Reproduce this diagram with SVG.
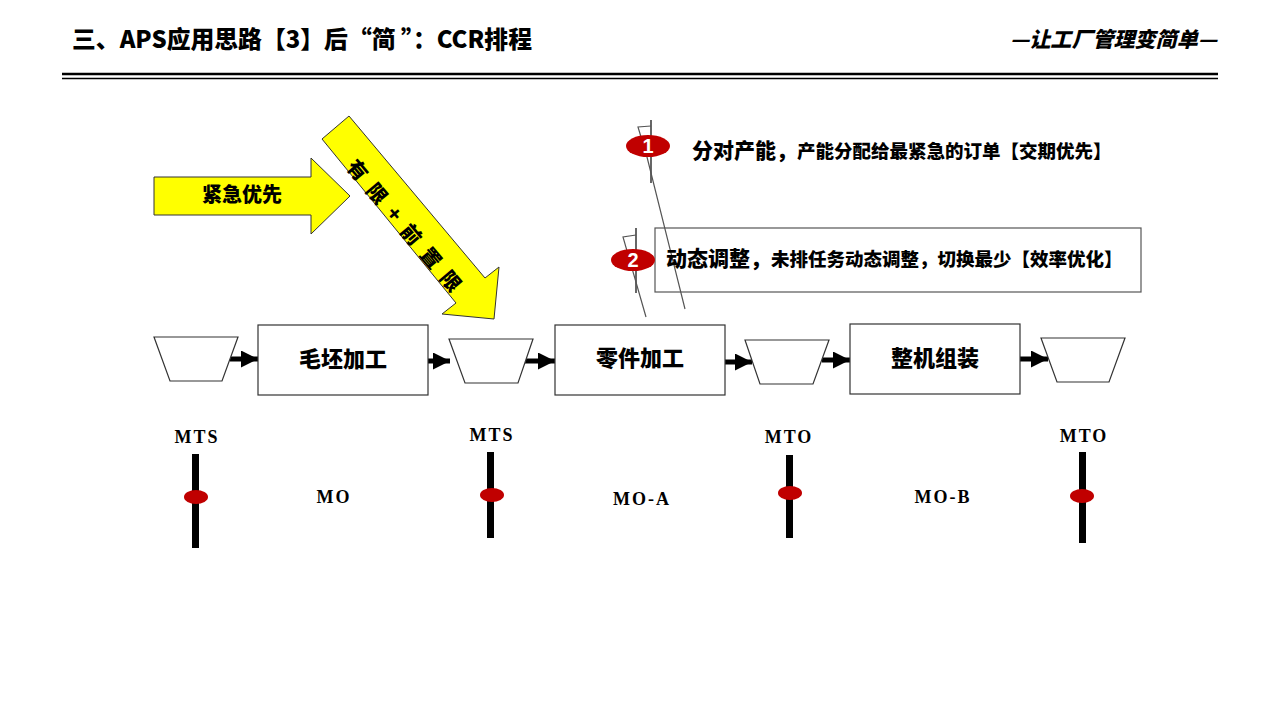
<svg xmlns="http://www.w3.org/2000/svg" width="1280" height="720" viewBox="0 0 1280 720">
<defs>
<style>
.cjk{font-family:"Noto Sans CJK SC","Noto Sans",sans-serif;font-weight:900;fill:#000}
.lat{font-family:"Liberation Serif",serif;font-weight:bold;fill:#000;font-size:18px;letter-spacing:2px}
.box{fill:#fff;stroke:#333;stroke-width:1.2}
.trap{fill:#fff;stroke:#333;stroke-width:1.2}
.flow{stroke:#000;stroke-width:5;fill:none}
.bar{fill:#000}
.dot{fill:#c00000}
.yarrow{fill:#ffff00;stroke:#333;stroke-width:1}
.lead{stroke:#555;stroke-width:1.2;fill:none}
.leadk{stroke:#000;stroke-width:1.2;fill:none}
.badge{fill:#c00000}
.badgetxt{font-family:"Liberation Sans",sans-serif;font-weight:bold;fill:#fff;font-size:20px}
</style>
<marker id="ah" viewBox="0 0 10 10" refX="10" refY="5" markerWidth="3.6" markerHeight="3.4" orient="auto" markerUnits="strokeWidth">
<path d="M0,0 L10,5 L0,10 Z" fill="#000"/>
</marker>
</defs>
<rect width="1280" height="720" fill="#fff"/>

<g id="header">
<text class="cjk" x="72" y="48" font-size="24" textLength="460" lengthAdjust="spacingAndGlyphs">三、APS应用思路【3】后“简 ”：CCR排程</text>
<text class="cjk" x="1010" y="47" font-size="21" font-style="italic" textLength="207" lengthAdjust="spacingAndGlyphs">—让工厂管理变简单—</text>
<line x1="62" y1="74" x2="1218" y2="74" stroke="#000" stroke-width="2.5"/>
<line x1="62" y1="78.5" x2="1218" y2="78.5" stroke="#000" stroke-width="1.3"/>
</g>

<g id="urgent-arrow">
<polygon class="yarrow" points="154,177 311,177 311,158 350,196 311,234 311,215 154,215"/>
<text class="cjk" x="242" y="202" font-size="20" text-anchor="middle">紧急优先</text>
</g>

<g id="limit-arrow">
<polygon class="yarrow" points="322,139 349,116 485,278 499,267 494,319 442,314 456,303"/>
<text class="cjk" font-size="20" transform="translate(405,225) rotate(50)" text-anchor="middle" dominant-baseline="central" textLength="165" lengthAdjust="spacing">有限+前置限</text>
</g>

<g id="connectors">
<line class="flow" x1="230" y1="359" x2="258" y2="359" marker-end="url(#ah)"/>
<line class="flow" x1="428" y1="361" x2="450" y2="361" marker-end="url(#ah)"/>
<line class="flow" x1="525" y1="361" x2="555" y2="361" marker-end="url(#ah)"/>
<line class="flow" x1="725" y1="362" x2="752" y2="362" marker-end="url(#ah)"/>
<line class="flow" x1="822" y1="360" x2="850" y2="360" marker-end="url(#ah)"/>
<line class="flow" x1="1020" y1="359" x2="1048" y2="359" marker-end="url(#ah)"/>
</g>

<g id="buffer1"><polygon class="trap" points="154,337 238,337 222,381 170,381"/></g>
<g id="proc1"><rect class="box" x="258" y="325" width="170" height="70"/><text class="cjk" x="343" y="367" font-size="22" text-anchor="middle">毛坯加工</text></g>
<g id="buffer2"><polygon class="trap" points="449,339 533,339 518,383 465,383"/></g>
<g id="proc2"><rect class="box" x="555" y="325" width="170" height="70"/><text class="cjk" x="640" y="366" font-size="22" text-anchor="middle">零件加工</text></g>
<g id="buffer3"><polygon class="trap" points="745,340 829,340 813,384 760,384"/></g>
<g id="proc3"><rect class="box" x="850" y="324" width="170" height="70"/><text class="cjk" x="935" y="366" font-size="22" text-anchor="middle">整机组装</text></g>
<g id="buffer4"><polygon class="trap" points="1041,338 1125,338 1109,382 1057,382"/></g>

<g id="callout1">
<polyline class="leadk" points="651,120 651,183"/>
<polyline class="lead" points="651,126 638,127 647,157 685,309"/>
<ellipse class="badge" cx="648" cy="146" rx="22" ry="11"/>
<text class="badgetxt" x="648" y="153" text-anchor="middle">1</text>
<text class="cjk" x="692" y="158"><tspan font-size="21">分对产能，</tspan><tspan font-size="18.5">产能分配给最紧急的订单【交期优先】</tspan></text>
</g>

<g id="callout2">
<rect x="655" y="228" width="486" height="64" fill="none" stroke="#555" stroke-width="1.2"/>
<polyline class="leadk" points="636,228 636,293"/>
<polyline class="lead" points="636,235 623,237 646,317"/>
<ellipse class="badge" cx="633" cy="260" rx="22" ry="11"/>
<text class="badgetxt" x="633" y="267" text-anchor="middle">2</text>
<text class="cjk" x="666" y="266"><tspan font-size="21">动态调整，</tspan><tspan font-size="18.5">未排任务动态调整，切换最少【效率优化】</tspan></text>
</g>

<g id="mark1">
<text class="lat" x="197" y="443" text-anchor="middle">MTS</text>
<rect class="bar" x="192" y="454" width="7" height="94"/>
<ellipse class="dot" cx="196" cy="497" rx="12" ry="7"/>
</g>
<g id="mark2">
<text class="lat" x="492" y="441" text-anchor="middle">MTS</text>
<rect class="bar" x="487" y="452" width="7" height="86"/>
<ellipse class="dot" cx="492" cy="495" rx="12" ry="7"/>
</g>
<g id="mark3">
<text class="lat" x="789" y="443" text-anchor="middle">MTO</text>
<rect class="bar" x="786" y="455" width="7" height="83"/>
<ellipse class="dot" cx="790" cy="493" rx="12" ry="7"/>
</g>
<g id="mark4">
<text class="lat" x="1084" y="442" text-anchor="middle">MTO</text>
<rect class="bar" x="1079" y="452" width="7" height="91"/>
<ellipse class="dot" cx="1082" cy="496" rx="12" ry="7"/>
</g>

<g id="segments">
<text class="lat" x="334" y="503" text-anchor="middle">MO</text>
<text class="lat" x="642" y="505" text-anchor="middle">MO-A</text>
<text class="lat" x="943" y="503" text-anchor="middle">MO-B</text>
</g>
</svg>
